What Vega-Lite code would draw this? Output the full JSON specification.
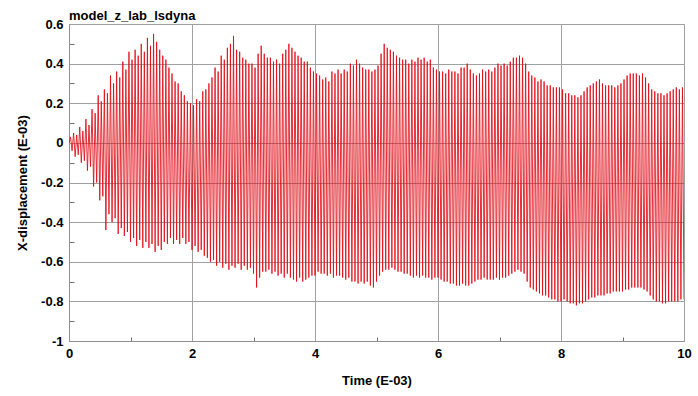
{
"$schema": "https://vega.github.io/schema/vega-lite/v6.json",
"width": 615, "height": 317,
"autosize": "none",
"padding": {"left": 69, "top": 24, "right": 14, "bottom": 55},
"background": "white",
"config": {"view": {"stroke": "#9a9a9a", "strokeWidth": 1}, "font": "Liberation Sans"},
"title": {"text": "model_z_lab_lsdyna", "anchor": "start", "frame": "group", "offset": -5, "fontSize": 13, "fontWeight": "bold", "font": "Liberation Sans", "color": "#000"},
"data": {"values": [
{"t":0,"y":0},
{"t":0.025,"y":0.03},{"t":0.05,"y":-0.04},{"t":0.075,"y":0.05},{"t":0.1,"y":-0.07},{"t":0.125,"y":0.04},{"t":0.15,"y":-0.06},{"t":0.175,"y":0.08},{"t":0.2,"y":-0.10},{"t":0.225,"y":0.06},{"t":0.25,"y":-0.09},
{"t":0.275,"y":0.12},{"t":0.3,"y":-0.14},{"t":0.325,"y":0.09},{"t":0.35,"y":-0.12},{"t":0.375,"y":0.17},{"t":0.4,"y":-0.22},{"t":0.425,"y":0.15},{"t":0.45,"y":-0.20},{"t":0.475,"y":0.24},{"t":0.5,"y":-0.29},
{"t":0.525,"y":0.21},{"t":0.55,"y":-0.27},{"t":0.575,"y":0.27},{"t":0.6,"y":-0.44},{"t":0.625,"y":0.25},{"t":0.65,"y":-0.36},{"t":0.675,"y":0.34},{"t":0.7,"y":-0.40},{"t":0.725,"y":0.30},{"t":0.75,"y":-0.38},
{"t":0.775,"y":0.36},{"t":0.8,"y":-0.46},{"t":0.825,"y":0.33},{"t":0.85,"y":-0.43},{"t":0.875,"y":0.41},{"t":0.9,"y":-0.47},{"t":0.925,"y":0.37},{"t":0.95,"y":-0.45},{"t":0.975,"y":0.46},{"t":1.0,"y":-0.50},
{"t":1.025,"y":0.42},{"t":1.05,"y":-0.48},{"t":1.075,"y":0.47},{"t":1.1,"y":-0.52},{"t":1.125,"y":0.44},{"t":1.15,"y":-0.49},{"t":1.175,"y":0.50},{"t":1.2,"y":-0.53},{"t":1.225,"y":0.46},{"t":1.25,"y":-0.50},
{"t":1.275,"y":0.53},{"t":1.3,"y":-0.53},{"t":1.325,"y":0.49},{"t":1.35,"y":-0.51},{"t":1.375,"y":0.55},{"t":1.4,"y":-0.55},{"t":1.425,"y":0.51},{"t":1.45,"y":-0.52},{"t":1.475,"y":0.47},{"t":1.5,"y":-0.54},
{"t":1.525,"y":0.44},{"t":1.55,"y":-0.50},{"t":1.575,"y":0.42},{"t":1.6,"y":-0.51},{"t":1.625,"y":0.38},{"t":1.65,"y":-0.48},{"t":1.675,"y":0.35},{"t":1.7,"y":-0.51},{"t":1.725,"y":0.31},{"t":1.75,"y":-0.49},
{"t":1.775,"y":0.30},{"t":1.8,"y":-0.51},{"t":1.825,"y":0.26},{"t":1.85,"y":-0.48},{"t":1.875,"y":0.24},{"t":1.9,"y":-0.51},{"t":1.925,"y":0.21},{"t":1.95,"y":-0.50},{"t":1.975,"y":0.20},{"t":2.0,"y":-0.54},
{"t":2.025,"y":0.19},{"t":2.05,"y":-0.52},{"t":2.075,"y":0.22},{"t":2.1,"y":-0.55},{"t":2.125,"y":0.21},{"t":2.15,"y":-0.54},{"t":2.175,"y":0.26},{"t":2.2,"y":-0.57},{"t":2.225,"y":0.27},{"t":2.25,"y":-0.58},
{"t":2.275,"y":0.30},{"t":2.3,"y":-0.60},{"t":2.325,"y":0.33},{"t":2.35,"y":-0.59},{"t":2.375,"y":0.38},{"t":2.4,"y":-0.62},{"t":2.425,"y":0.36},{"t":2.45,"y":-0.60},{"t":2.475,"y":0.44},{"t":2.5,"y":-0.63},
{"t":2.525,"y":0.42},{"t":2.55,"y":-0.61},{"t":2.575,"y":0.48},{"t":2.6,"y":-0.64},{"t":2.625,"y":0.50},{"t":2.65,"y":-0.62},{"t":2.675,"y":0.54},{"t":2.7,"y":-0.63},{"t":2.725,"y":0.47},{"t":2.75,"y":-0.61},
{"t":2.775,"y":0.46},{"t":2.8,"y":-0.64},{"t":2.825,"y":0.43},{"t":2.85,"y":-0.62},{"t":2.875,"y":0.42},{"t":2.9,"y":-0.64},{"t":2.925,"y":0.40},{"t":2.95,"y":-0.63},{"t":2.975,"y":0.40},{"t":3.0,"y":-0.66},
{"t":3.025,"y":0.38},{"t":3.05,"y":-0.73},{"t":3.075,"y":0.45},{"t":3.1,"y":-0.68},{"t":3.125,"y":0.49},{"t":3.15,"y":-0.65},{"t":3.175,"y":0.45},{"t":3.2,"y":-0.65},{"t":3.225,"y":0.43},{"t":3.25,"y":-0.64},
{"t":3.275,"y":0.43},{"t":3.3,"y":-0.66},{"t":3.325,"y":0.41},{"t":3.35,"y":-0.65},{"t":3.375,"y":0.42},{"t":3.4,"y":-0.67},{"t":3.425,"y":0.40},{"t":3.45,"y":-0.66},{"t":3.475,"y":0.45},{"t":3.5,"y":-0.68},
{"t":3.525,"y":0.47},{"t":3.55,"y":-0.66},{"t":3.575,"y":0.50},{"t":3.6,"y":-0.68},{"t":3.625,"y":0.48},{"t":3.65,"y":-0.69},{"t":3.675,"y":0.46},{"t":3.7,"y":-0.70},{"t":3.725,"y":0.44},{"t":3.75,"y":-0.68},
{"t":3.775,"y":0.43},{"t":3.8,"y":-0.70},{"t":3.825,"y":0.41},{"t":3.85,"y":-0.69},{"t":3.875,"y":0.41},{"t":3.9,"y":-0.68},{"t":3.925,"y":0.38},{"t":3.95,"y":-0.67},{"t":3.975,"y":0.36},{"t":4.0,"y":-0.67},
{"t":4.025,"y":0.35},{"t":4.05,"y":-0.65},{"t":4.075,"y":0.34},{"t":4.1,"y":-0.66},{"t":4.125,"y":0.32},{"t":4.15,"y":-0.66},{"t":4.175,"y":0.33},{"t":4.2,"y":-0.67},{"t":4.225,"y":0.31},{"t":4.25,"y":-0.66},
{"t":4.275,"y":0.36},{"t":4.3,"y":-0.68},{"t":4.325,"y":0.35},{"t":4.35,"y":-0.67},{"t":4.375,"y":0.37},{"t":4.4,"y":-0.67},{"t":4.425,"y":0.35},{"t":4.45,"y":-0.68},{"t":4.475,"y":0.37},{"t":4.5,"y":-0.69},
{"t":4.525,"y":0.36},{"t":4.55,"y":-0.68},{"t":4.575,"y":0.40},{"t":4.6,"y":-0.70},{"t":4.625,"y":0.39},{"t":4.65,"y":-0.70},{"t":4.675,"y":0.42},{"t":4.7,"y":-0.71},{"t":4.725,"y":0.40},{"t":4.75,"y":-0.70},
{"t":4.775,"y":0.38},{"t":4.8,"y":-0.71},{"t":4.825,"y":0.37},{"t":4.85,"y":-0.70},{"t":4.875,"y":0.37},{"t":4.9,"y":-0.72},{"t":4.925,"y":0.36},{"t":4.95,"y":-0.73},{"t":4.975,"y":0.37},{"t":5.0,"y":-0.70},
{"t":5.025,"y":0.39},{"t":5.05,"y":-0.67},{"t":5.075,"y":0.45},{"t":5.1,"y":-0.65},{"t":5.125,"y":0.50},{"t":5.15,"y":-0.64},{"t":5.175,"y":0.48},{"t":5.2,"y":-0.64},{"t":5.225,"y":0.47},{"t":5.25,"y":-0.63},
{"t":5.275,"y":0.46},{"t":5.3,"y":-0.64},{"t":5.325,"y":0.44},{"t":5.35,"y":-0.65},{"t":5.375,"y":0.43},{"t":5.4,"y":-0.65},{"t":5.425,"y":0.42},{"t":5.45,"y":-0.66},{"t":5.475,"y":0.42},{"t":5.5,"y":-0.66},
{"t":5.525,"y":0.40},{"t":5.55,"y":-0.67},{"t":5.575,"y":0.42},{"t":5.6,"y":-0.68},{"t":5.625,"y":0.41},{"t":5.65,"y":-0.67},{"t":5.675,"y":0.43},{"t":5.7,"y":-0.68},{"t":5.725,"y":0.42},{"t":5.75,"y":-0.67},
{"t":5.775,"y":0.43},{"t":5.8,"y":-0.68},{"t":5.825,"y":0.41},{"t":5.85,"y":-0.68},{"t":5.875,"y":0.42},{"t":5.9,"y":-0.69},{"t":5.925,"y":0.38},{"t":5.95,"y":-0.68},{"t":5.975,"y":0.37},{"t":6.0,"y":-0.68},
{"t":6.025,"y":0.36},{"t":6.05,"y":-0.69},{"t":6.075,"y":0.36},{"t":6.1,"y":-0.70},{"t":6.125,"y":0.35},{"t":6.15,"y":-0.70},{"t":6.175,"y":0.37},{"t":6.2,"y":-0.71},{"t":6.225,"y":0.36},{"t":6.25,"y":-0.71},
{"t":6.275,"y":0.36},{"t":6.3,"y":-0.72},{"t":6.325,"y":0.35},{"t":6.35,"y":-0.72},{"t":6.375,"y":0.38},{"t":6.4,"y":-0.71},{"t":6.425,"y":0.38},{"t":6.45,"y":-0.72},{"t":6.475,"y":0.40},{"t":6.5,"y":-0.72},
{"t":6.525,"y":0.37},{"t":6.55,"y":-0.71},{"t":6.575,"y":0.35},{"t":6.6,"y":-0.70},{"t":6.625,"y":0.34},{"t":6.65,"y":-0.69},{"t":6.675,"y":0.35},{"t":6.7,"y":-0.69},{"t":6.725,"y":0.37},{"t":6.75,"y":-0.68},
{"t":6.775,"y":0.36},{"t":6.8,"y":-0.69},{"t":6.825,"y":0.37},{"t":6.85,"y":-0.69},{"t":6.875,"y":0.36},{"t":6.9,"y":-0.69},{"t":6.925,"y":0.38},{"t":6.95,"y":-0.68},{"t":6.975,"y":0.40},{"t":7.0,"y":-0.69},
{"t":7.025,"y":0.39},{"t":7.05,"y":-0.68},{"t":7.075,"y":0.40},{"t":7.1,"y":-0.68},{"t":7.125,"y":0.39},{"t":7.15,"y":-0.67},{"t":7.175,"y":0.41},{"t":7.2,"y":-0.66},{"t":7.225,"y":0.43},{"t":7.25,"y":-0.65},
{"t":7.275,"y":0.43},{"t":7.3,"y":-0.64},{"t":7.325,"y":0.44},{"t":7.35,"y":-0.65},{"t":7.375,"y":0.43},{"t":7.4,"y":-0.66},{"t":7.425,"y":0.40},{"t":7.45,"y":-0.70},{"t":7.475,"y":0.36},{"t":7.5,"y":-0.73},
{"t":7.525,"y":0.34},{"t":7.55,"y":-0.74},{"t":7.575,"y":0.33},{"t":7.6,"y":-0.75},{"t":7.625,"y":0.31},{"t":7.65,"y":-0.76},{"t":7.675,"y":0.32},{"t":7.7,"y":-0.77},{"t":7.725,"y":0.31},{"t":7.75,"y":-0.77},
{"t":7.775,"y":0.29},{"t":7.8,"y":-0.78},{"t":7.825,"y":0.29},{"t":7.85,"y":-0.79},{"t":7.875,"y":0.28},{"t":7.9,"y":-0.79},{"t":7.925,"y":0.28},{"t":7.95,"y":-0.80},{"t":7.975,"y":0.28},{"t":8.0,"y":-0.80},
{"t":8.025,"y":0.27},{"t":8.05,"y":-0.79},{"t":8.075,"y":0.25},{"t":8.1,"y":-0.80},{"t":8.125,"y":0.25},{"t":8.15,"y":-0.81},{"t":8.175,"y":0.24},{"t":8.2,"y":-0.81},{"t":8.225,"y":0.24},{"t":8.25,"y":-0.82},
{"t":8.275,"y":0.23},{"t":8.3,"y":-0.81},{"t":8.325,"y":0.24},{"t":8.35,"y":-0.81},{"t":8.375,"y":0.26},{"t":8.4,"y":-0.80},{"t":8.425,"y":0.28},{"t":8.45,"y":-0.79},{"t":8.475,"y":0.29},{"t":8.5,"y":-0.78},
{"t":8.525,"y":0.30},{"t":8.55,"y":-0.78},{"t":8.575,"y":0.31},{"t":8.6,"y":-0.77},{"t":8.625,"y":0.32},{"t":8.65,"y":-0.77},{"t":8.675,"y":0.30},{"t":8.7,"y":-0.77},{"t":8.725,"y":0.29},{"t":8.75,"y":-0.76},
{"t":8.775,"y":0.29},{"t":8.8,"y":-0.76},{"t":8.825,"y":0.29},{"t":8.85,"y":-0.75},{"t":8.875,"y":0.28},{"t":8.9,"y":-0.75},{"t":8.925,"y":0.29},{"t":8.95,"y":-0.75},{"t":8.975,"y":0.30},{"t":9.0,"y":-0.75},
{"t":9.025,"y":0.32},{"t":9.05,"y":-0.74},{"t":9.075,"y":0.34},{"t":9.1,"y":-0.74},{"t":9.125,"y":0.35},{"t":9.15,"y":-0.73},{"t":9.175,"y":0.35},{"t":9.2,"y":-0.73},{"t":9.225,"y":0.35},{"t":9.25,"y":-0.73},
{"t":9.275,"y":0.34},{"t":9.3,"y":-0.73},{"t":9.325,"y":0.35},{"t":9.35,"y":-0.74},{"t":9.375,"y":0.33},{"t":9.4,"y":-0.75},{"t":9.425,"y":0.30},{"t":9.45,"y":-0.77},{"t":9.475,"y":0.27},{"t":9.5,"y":-0.79},
{"t":9.525,"y":0.26},{"t":9.55,"y":-0.80},{"t":9.575,"y":0.25},{"t":9.6,"y":-0.80},{"t":9.625,"y":0.25},{"t":9.65,"y":-0.81},{"t":9.675,"y":0.24},{"t":9.7,"y":-0.81},{"t":9.725,"y":0.25},{"t":9.75,"y":-0.80},
{"t":9.775,"y":0.26},{"t":9.8,"y":-0.80},{"t":9.825,"y":0.27},{"t":9.85,"y":-0.80},{"t":9.875,"y":0.28},{"t":9.9,"y":-0.80},{"t":9.925,"y":0.27},{"t":9.95,"y":-0.79},{"t":9.975,"y":0.28},{"t":10.0,"y":-0.79}
]},
"mark": {"type": "line", "color": "#e00a14", "strokeWidth": 0.85, "interpolate": "linear", "clip": true},
"encoding": {
"x": {"field": "t", "type": "quantitative", "scale": {"domain": [0, 10], "nice": false, "zero": false},
 "axis": {"values": [0,1,2,3,4,5,6,7,8,9,10], "title": "Time (E-03)", "titleFont": "Liberation Sans", "titleFontSize": 13, "titleFontWeight": "bold", "titleColor": "#000", "titlePadding": 14,
  "labelExpr": "datum.value % 2 != 0 ? '' : datum.label", "labelFont": "Liberation Sans", "labelFontSize": 13, "labelFontWeight": "bold", "labelColor": "#000", "labelPadding": 6, "labelFlush": false,
  "grid": true, "gridColor": "#a0a0a0", "gridWidth": 1, "gridOpacity": {"condition": {"test": "datum.value % 2 != 0", "value": 0}, "value": 1},
  "domainColor": "#909090", "tickColor": "#707070", "tickSize": {"condition": {"test": "datum.value % 2 != 0", "value": -4}, "value": 0}}},
"y": {"field": "y", "type": "quantitative", "scale": {"domain": [-1, 0.6], "nice": false, "zero": false},
 "axis": {"values": [-1,-0.9,-0.8,-0.7,-0.6,-0.5,-0.4,-0.3,-0.2,-0.1,0,0.1,0.2,0.3,0.4,0.5,0.6], "title": "X-displacement (E-03)", "titleFont": "Liberation Sans", "titleFontSize": 13, "titleFontWeight": "bold", "titleColor": "#000", "titlePadding": 11,
  "labelExpr": "round(datum.value*10) % 2 != 0 ? '' : toString(round(datum.value*10)/10)", "labelFont": "Liberation Sans", "labelFontSize": 13, "labelFontWeight": "bold", "labelColor": "#000", "labelPadding": 6, "labelFlush": false,
  "grid": true, "gridColor": "#a0a0a0", "gridWidth": 1, "gridOpacity": {"condition": {"test": "round(datum.value*10) % 2 != 0", "value": 0}, "value": 1},
  "domainColor": "#909090", "tickColor": "#707070", "tickSize": {"condition": {"test": "round(datum.value*10) % 2 != 0", "value": -5}, "value": 0}}}
}
}
